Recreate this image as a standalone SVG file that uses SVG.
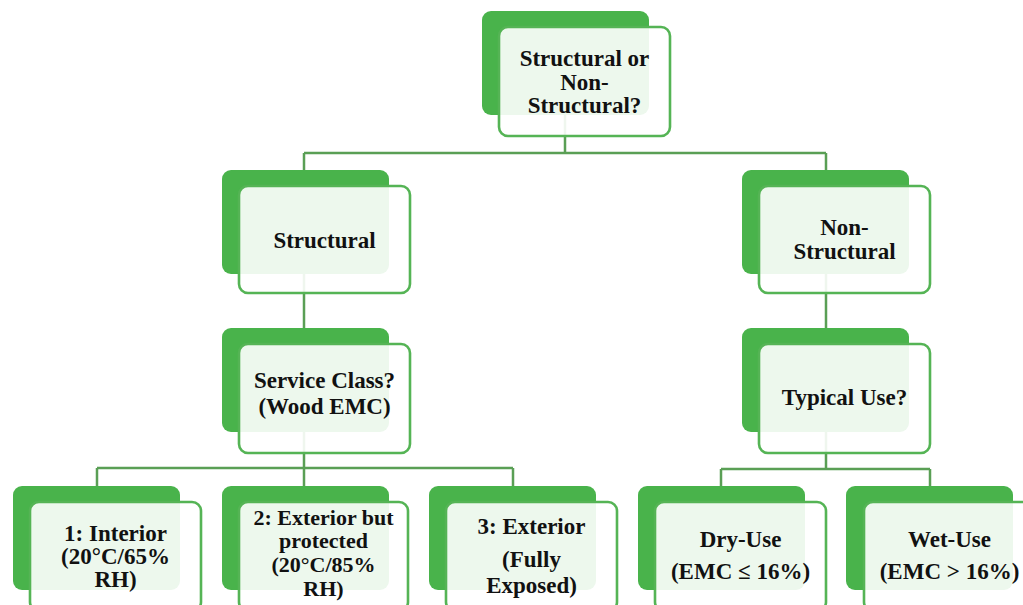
<svg xmlns="http://www.w3.org/2000/svg" width="1023" height="605" viewBox="0 0 1023 605">
<style>
.back{fill:#49b34b;}
.front{fill:#ffffff;fill-opacity:0.9;stroke:#55b455;stroke-width:2.6;}
.conn{fill:none;stroke:#5a9f55;stroke-width:2.5;}
text{font-family:"Liberation Serif","Times New Roman",serif;font-weight:bold;font-size:23px;fill:#111111;text-anchor:middle;}
.sm{font-size:22px;}
</style>
<rect width="1023" height="605" fill="#ffffff"/>
<g id="connectors">
<path class="conn" d="M565 115V153M304 153H826M304 153V170M826 153V170"/>
<path class="conn" d="M304 273V328M826 273V328"/>
<path class="conn" d="M304 432V468M97 468H513M97 468V486M304 468V486M513 468V486"/>
<path class="conn" d="M826 432V469M721 469H930M721 469V486M930 469V486"/>
</g>
<g id="n-root">
<rect class="back" x="482" y="11" width="167" height="104" rx="9"/>
<rect class="front" x="499" y="27" width="171" height="109" rx="9"/>
<text x="584.5" y="66">Structural or</text>
<text x="584.5" y="90">Non-</text>
<text x="584.5" y="113">Structural?</text>
</g>
<g id="n-structural">
<rect class="back" x="222" y="170" width="167" height="104" rx="9"/>
<rect class="front" x="239" y="186" width="171" height="107" rx="9"/>
<text x="324.5" y="248">Structural</text>
</g>
<g id="n-nonstructural">
<rect class="back" x="742" y="170" width="167" height="104" rx="9"/>
<rect class="front" x="759" y="186" width="171" height="107" rx="9"/>
<text x="844.5" y="235">Non-</text>
<text x="844.5" y="259">Structural</text>
</g>
<g id="n-service">
<rect class="back" x="222" y="328" width="167" height="104" rx="9"/>
<rect class="front" x="239" y="344" width="171" height="109" rx="9"/>
<text x="324.5" y="388">Service Class?</text>
<text x="324.5" y="414">(Wood EMC)</text>
</g>
<g id="n-typical">
<rect class="back" x="742" y="328" width="167" height="104" rx="9"/>
<rect class="front" x="759" y="344" width="171" height="109" rx="9"/>
<text x="844.5" y="405">Typical Use?</text>
</g>
<g id="n-class1">
<rect class="back" x="13" y="486" width="167" height="104" rx="9"/>
<rect class="front" x="30" y="502" width="171" height="109" rx="9"/>
<text x="115.5" y="541">1: Interior</text>
<text x="115.5" y="564">(20°C/65%</text>
<text x="115.5" y="587">RH)</text>
</g>
<g id="n-class2">
<rect class="back" x="222" y="486" width="167" height="104" rx="9"/>
<rect class="front" x="239" y="502" width="169" height="109" rx="9"/>
<text class="sm" x="323.5" y="525">2: Exterior but</text>
<text class="sm" x="323.5" y="548">protected</text>
<text class="sm" x="323.5" y="572">(20°C/85%</text>
<text class="sm" x="323.5" y="596">RH)</text>
</g>
<g id="n-class3">
<rect class="back" x="429" y="486" width="167" height="104" rx="9"/>
<rect class="front" x="446" y="502" width="171" height="109" rx="9"/>
<text x="531.5" y="534">3: Exterior</text>
<text x="531.5" y="567">(Fully</text>
<text x="531.5" y="593">Exposed)</text>
</g>
<g id="n-dry">
<rect class="back" x="638" y="486" width="167" height="104" rx="9"/>
<rect class="front" x="655" y="502" width="171" height="109" rx="9"/>
<text x="740.5" y="547">Dry-Use</text>
<text x="740.5" y="579">(EMC ≤ 16%)</text>
</g>
<g id="n-wet">
<rect class="back" x="846" y="486" width="167" height="104" rx="9"/>
<rect class="front" x="864" y="502" width="171" height="109" rx="9"/>
<text x="949.5" y="547">Wet-Use</text>
<text x="949.5" y="579">(EMC &gt; 16%)</text>
</g>
</svg>
